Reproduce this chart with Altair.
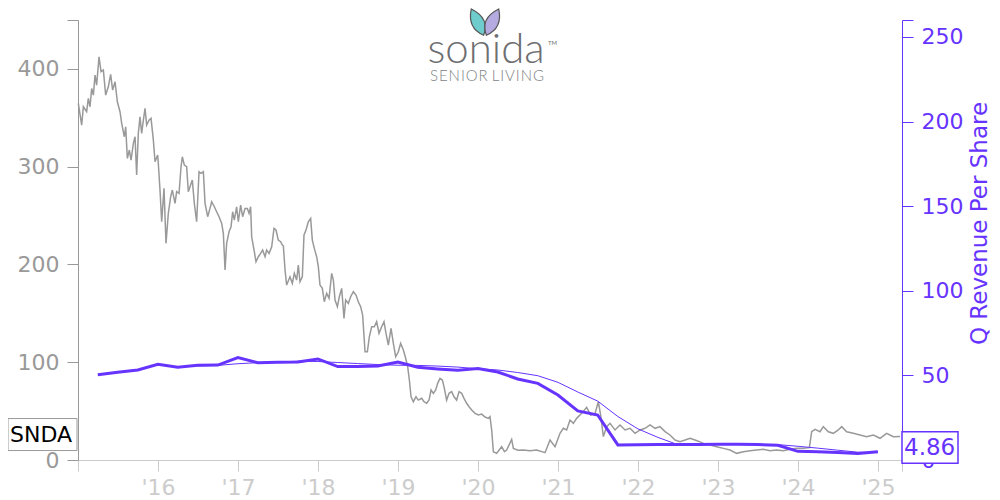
import altair as alt
import pandas as pd

# ---------------- data ----------------
price_years = [
    2015.004, 2015.046, 2015.067, 2015.108, 2015.129, 2015.150, 2015.171, 2015.192, 2015.213, 2015.233,
    2015.263, 2015.288, 2015.317, 2015.346, 2015.379, 2015.408, 2015.433, 2015.463, 2015.492, 2015.525,
    2015.546, 2015.579, 2015.596, 2015.617, 2015.642, 2015.663, 2015.692, 2015.713, 2015.733, 2015.754,
    2015.775, 2015.796, 2015.817, 2015.838, 2015.858, 2015.888, 2015.913, 2015.942, 2015.963, 2015.996,
    2016.004, 2016.025, 2016.046, 2016.075, 2016.100, 2016.129, 2016.158, 2016.179, 2016.213, 2016.233,
    2016.263, 2016.288, 2016.304, 2016.329, 2016.358, 2016.379, 2016.400, 2016.429, 2016.454, 2016.483,
    2016.513, 2016.538, 2016.567, 2016.588, 2016.621, 2016.650, 2016.671, 2016.704, 2016.733, 2016.763,
    2016.796, 2016.817, 2016.838, 2016.858, 2016.888, 2016.913, 2016.933, 2016.954, 2016.983, 2017.004,
    2017.033, 2017.058, 2017.088, 2017.117, 2017.138, 2017.158, 2017.171, 2017.204, 2017.225, 2017.254,
    2017.283, 2017.308, 2017.338, 2017.358, 2017.388, 2017.421, 2017.450, 2017.475, 2017.504, 2017.533,
    2017.554, 2017.567, 2017.588, 2017.608, 2017.650, 2017.679, 2017.704, 2017.733, 2017.754, 2017.775,
    2017.804, 2017.825, 2017.850, 2017.879, 2017.908, 2017.929, 2017.954, 2017.983, 2018.004, 2018.025,
    2018.054, 2018.079, 2018.108, 2018.138, 2018.171, 2018.192, 2018.213, 2018.242, 2018.267, 2018.296,
    2018.325, 2018.346, 2018.379, 2018.408, 2018.442, 2018.475, 2018.504, 2018.533, 2018.558, 2018.588,
    2018.617, 2018.642, 2018.671, 2018.704, 2018.733, 2018.763, 2018.796, 2018.825, 2018.850, 2018.879,
    2018.913, 2018.942, 2018.971, 2019.004, 2019.033, 2019.067, 2019.096, 2019.121, 2019.142, 2019.163,
    2019.192, 2019.225, 2019.254, 2019.296, 2019.325, 2019.358, 2019.388, 2019.413, 2019.442, 2019.471,
    2019.496, 2019.525, 2019.554, 2019.575, 2019.608, 2019.638, 2019.671, 2019.700, 2019.733, 2019.763,
    2019.796, 2019.825, 2019.858, 2019.888, 2019.921, 2019.963, 2020.004, 2020.046, 2020.088, 2020.129,
    2020.150, 2020.171, 2020.192, 2020.233, 2020.262, 2020.296, 2020.330, 2020.358, 2020.421, 2020.442,
    2020.500, 2020.567, 2020.650, 2020.733, 2020.838, 2020.900, 2020.963, 2021.025, 2021.067, 2021.108,
    2021.150, 2021.192, 2021.233, 2021.296, 2021.358, 2021.408, 2021.463, 2021.504, 2021.533, 2021.567,
    2021.608, 2021.650, 2021.713, 2021.775, 2021.838, 2021.900, 2021.963, 2022.025, 2022.088, 2022.150,
    2022.213, 2022.275, 2022.338, 2022.400, 2022.463, 2022.525, 2022.588, 2022.650, 2022.713, 2022.775,
    2022.817, 2022.900, 2022.983, 2023.067, 2023.150, 2023.233, 2023.317, 2023.400, 2023.483, 2023.567,
    2023.650, 2023.733, 2023.817, 2023.900, 2023.983, 2024.067, 2024.142, 2024.171, 2024.213, 2024.275,
    2024.317, 2024.379, 2024.442, 2024.504, 2024.546, 2024.608, 2024.692, 2024.775, 2024.858, 2024.942,
    2025.025, 2025.108, 2025.192, 2025.275,
]
price_values = [
    364.7, 342.5, 361.3, 356.2, 369.8, 361.3, 380.0, 373.2, 393.7, 383.4,
    412.4, 397.1, 398.8, 373.2, 381.7, 394.4, 378.3, 386.8, 366.4, 356.2,
    344.3, 330.6, 340.8, 308.5, 317.0, 306.7, 323.8, 330.6, 291.4, 334.0,
    351.0, 334.0, 347.6, 359.6, 342.5, 347.6, 349.4, 327.2, 305.0, 311.9,
    303.3, 276.1, 243.7, 277.8, 221.6, 252.2, 269.2, 276.1, 262.5, 274.4,
    272.6, 299.9, 310.1, 301.6, 299.9, 274.4, 279.5, 286.3, 262.5, 243.7,
    294.8, 293.1, 294.8, 262.5, 248.8, 257.3, 264.1, 259.0, 253.9, 248.8,
    242.0, 231.8, 194.3, 221.6, 233.4, 238.6, 253.9, 245.4, 259.0, 243.7,
    260.7, 248.8, 257.3, 257.3, 252.2, 259.0, 228.3, 213.0, 202.8, 207.9,
    211.3, 214.7, 207.9, 214.7, 211.3, 218.1, 236.9, 235.2, 224.9, 223.2,
    219.8, 219.0, 194.3, 178.9, 187.4, 180.7, 190.9, 184.0, 199.4, 182.3,
    187.4, 230.1, 235.2, 243.7, 247.1, 224.9, 216.4, 207.9, 197.7, 178.9,
    175.5, 161.9, 170.4, 165.3, 190.9, 184.0, 163.6, 156.8, 167.0, 175.5,
    144.9, 163.6, 160.2, 167.0, 172.1, 168.7, 161.9, 156.8, 148.3, 110.7,
    110.7, 126.1, 136.3, 136.3, 141.4, 129.5, 136.3, 141.4, 129.5, 117.6,
    134.7, 119.3, 105.6, 110.7, 119.3, 112.5, 104.0, 95.4, 81.8, 64.7,
    59.6, 64.7, 61.3, 63.1, 59.6, 58.0, 61.3, 71.6, 68.2, 71.6,
    78.4, 83.5, 81.8, 75.0, 61.3, 68.2, 69.9, 64.7, 61.3, 69.9,
    68.2, 63.1, 58.0, 54.5, 51.1, 47.7, 46.0, 46.9, 44.0, 42.6,
    44.3, 30.7, 8.5, 6.8, 10.0, 13.6, 8.5, 10.2, 21.0, 11.9,
    10.0, 10.2, 9.5, 10.2, 7.5, 20.4, 13.6, 27.3, 32.4, 30.7,
    40.9, 37.5, 42.6, 47.7, 53.9, 46.0, 47.7, 59.6, 46.0, 23.9,
    34.1, 37.5, 30.7, 35.8, 30.7, 32.4, 27.3, 30.7, 32.4, 35.8,
    32.4, 34.1, 29.0, 25.6, 20.4, 18.7, 20.4, 22.2, 20.4, 18.5,
    17.0, 15.3, 13.6, 11.9, 10.2, 6.8, 8.5, 9.5, 10.2, 10.9,
    9.5, 10.2, 9.5, 10.9, 11.9, 11.9, 12.6, 28.9, 31.3, 28.9,
    34.1, 28.9, 27.3, 30.7, 34.1, 28.9, 27.3, 25.6, 23.9, 25.6,
    22.2, 27.3, 23.9, 24.0,
]

quarter_ends = [
    2015.247, 2015.496, 2015.748, 2015.999, 2016.247, 2016.496, 2016.748, 2016.999,
    2017.247, 2017.496, 2017.748, 2017.999, 2018.247, 2018.496, 2018.748, 2018.999,
    2019.247, 2019.496, 2019.748, 2019.999, 2020.247, 2020.496, 2020.748, 2020.999,
    2021.247, 2021.496, 2021.748, 2021.999, 2022.247, 2022.496, 2022.748, 2022.999,
    2023.247, 2023.496, 2023.748, 2023.999, 2024.247, 2024.496, 2024.748, 2024.999,
]
q_revenue = [
    50.4, 51.8, 53.2, 56.5, 54.8, 56.0, 56.1, 60.5,
    57.5, 57.7, 57.9, 59.7, 55.2, 55.2, 55.6, 57.9,
    54.8, 53.8, 53.0, 54.0, 52.0, 47.9, 45.3, 38.4,
    29.0, 26.6, 8.9, 9.0, 9.1, 9.2, 9.2, 9.3,
    9.3, 9.1, 8.7, 5.1, 4.9, 4.5, 3.9, 4.86,
]
avg_quarters = quarter_ends[5:]
avg_revenue = [
    55.6, 55.9, 56.9, 57.5, 57.9, 58.4, 58.2, 57.6,
    57.0, 56.4, 56.0, 55.9, 55.5, 54.9, 53.9, 53.2, 51.7, 49.8,
    45.9, 40.2, 34.8, 25.7, 18.4, 13.4, 9.1, 9.1, 9.2, 9.25,
    9.2, 9.1, 8.1, 7.0, 5.8, 4.6, 4.5,
]

ticker = "SNDA"
last_rev_text = "4.86"
x_ticks = [2015, 2016, 2017, 2018, 2019, 2020, 2021, 2022, 2023, 2024, 2025, 2025.3]
left_ticks = [0, 100, 200, 300, 400, 450]
right_ticks = [0, 50, 100, 150, 200, 250, 260]

PURPLE = "#6633ff"
GRAY = "#999999"
LIGHT = "#cccccc"
FONT = "DejaVu Sans"
W, H = 824, 440

price_df = pd.DataFrame({"yr": price_years, "price": price_values})
rev_df = pd.DataFrame({"yr": quarter_ends, "rev": q_revenue})
avg_df = pd.DataFrame({"yr": avg_quarters, "rev": avg_revenue})
snda_df = pd.DataFrame({"price": [price_values[-1]], "label": [ticker]})
last_df = pd.DataFrame({"rev": [q_revenue[-1]], "label": [last_rev_text]})

X = alt.X(
    "yr:Q",
    title=None,
    scale=alt.Scale(domain=[2015, 2025.3], nice=False, zero=False),
    axis=alt.Axis(
        values=x_ticks,
        labelExpr='(datum.value >= 2016 && datum.value <= 2025) ? "\'" + format(datum.value - 2000, "d") : ""',
        labelColor=LIGHT, tickColor=LIGHT, domainColor=LIGHT,
        tickSize=11, labelPadding=6, labelFlush=False, labelOverlap=False,
        labelFontSize=22, grid=False,
    ),
)
YL = alt.Y(
    "price:Q",
    title=None,
    scale=alt.Scale(domain=[0, 450], nice=False),
    axis=alt.Axis(
        orient="left", values=left_ticks,
        labelExpr='datum.value == 450 ? "" : datum.label',
        labelColor=GRAY, tickColor=GRAY, domainColor=GRAY,
        tickSize=11, labelPadding=8, labelFontSize=22, grid=False, labelOverlap=False,
    ),
)
YR = alt.Y(
    "rev:Q",
    title="Q Revenue Per Share",
    scale=alt.Scale(domain=[0, 260], nice=False),
    axis=alt.Axis(
        orient="right", values=right_ticks,
        labelExpr='datum.value == 260 ? "" : datum.label',
        labelColor=PURPLE, tickColor=PURPLE, domainColor=PURPLE, titleColor=PURPLE,
        tickSize=11, labelPadding=8, labelFontSize=22, grid=False, labelOverlap=False,
        titleFontSize=23, titleFontWeight="normal", titleAngle=270,
        titleX=77, titleY=203, titleAlign="center", titleBaseline="middle",
    ),
)

price_line = alt.Chart(price_df).mark_line(color=GRAY, strokeWidth=1.5).encode(x=X, y=YL)
snda_box = alt.Chart(snda_df).mark_rect(
    fill="white", stroke=GRAY, strokeWidth=1, yOffset=-18, y2Offset=14
).encode(x=alt.value(-70), x2=alt.value(-1), y=YL, y2=alt.Y2("price"))
snda_text = alt.Chart(snda_df).mark_text(
    align="left", baseline="middle", fontSize=22, color="black", font=FONT, dy=-2
).encode(x=alt.value(-68), y=YL, text="label:N")

# logo
leaf_left = "M -0.55 -0.93 Q -0.85 0.45 0.33 0.95 Q 0.8 -0.25 -0.55 -0.93 Z"
leaf_right = "M 0.55 -0.93 Q 0.85 0.45 -0.33 0.95 Q -0.8 -0.25 0.55 -0.93 Z"
one = pd.DataFrame({"k": [1]})
logo_leaf1 = alt.Chart(one).mark_point(
    shape=leaf_left, size=784, filled=True, fill="#5ec8c6", fillOpacity=0.9,
    stroke="#555555", strokeWidth=1.2
).encode(x=alt.value(401), y=alt.value(2))
logo_leaf2 = alt.Chart(one).mark_point(
    shape=leaf_right, size=784, filled=True, fill="#a99cdc", fillOpacity=0.85,
    stroke="#555555", strokeWidth=1.2
).encode(x=alt.value(413), y=alt.value(2))
logo_name = alt.Chart(one).mark_text(
    text="sonida", font="Lato", fontWeight=300, fontSize=42, color="#6d6e71",
    align="center", baseline="alphabetic"
).encode(x=alt.value(408), y=alt.value(43))
logo_tm = alt.Chart(one).mark_text(
    text="TM", font="Lato", fontSize=6, color="#6d6e71", align="left", baseline="alphabetic"
).encode(x=alt.value(470), y=alt.value(25))
HS = "\u200a"
logo_sub = alt.Chart(one).mark_text(
    text=HS.join("SENIOR") + " " + HS.join("LIVING"), font="Lato", fontWeight=300, fontSize=15,
    color="#808285", align="center", baseline="alphabetic"
).encode(x=alt.value(409), y=alt.value(61))

left_group = alt.layer(price_line, snda_box, snda_text, logo_leaf1, logo_leaf2, logo_name, logo_tm, logo_sub)

avg_line = alt.Chart(avg_df).mark_line(color=PURPLE, strokeWidth=1).encode(x=X, y=YR)
rev_line = alt.Chart(rev_df).mark_line(color=PURPLE, strokeWidth=3).encode(x=X, y=YR)
last_box = alt.Chart(last_df).mark_rect(
    fill="white", stroke=PURPLE, strokeWidth=1.5, yOffset=-20, y2Offset=11.5
).encode(x=alt.value(824), x2=alt.value(880), y=YR, y2=alt.Y2("rev"))
last_text = alt.Chart(last_df).mark_text(
    align="left", baseline="middle", fontSize=23, color=PURPLE, font=FONT, dy=-4
).encode(x=alt.value(826), y=YR, text="label:N")

right_group = alt.layer(avg_line, rev_line, last_box, last_text)

chart = alt.layer(left_group, right_group).resolve_scale(y="independent").properties(
    width=W, height=H,
    padding={"left": 70, "top": 12, "right": 90, "bottom": 38},
    autosize=alt.AutoSizeParams(type="none"),
).configure_view(stroke=None).configure_axis(
    labelFont=FONT, titleFont=FONT
)

chart.save("out.html", embed_options={"renderer": "svg", "actions": False})
